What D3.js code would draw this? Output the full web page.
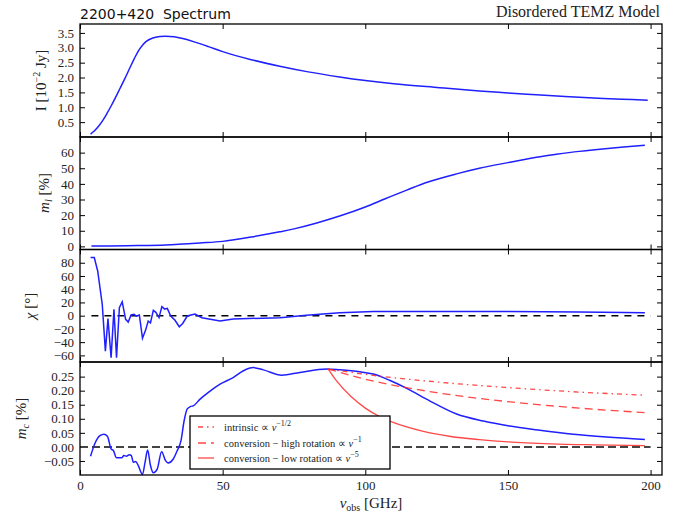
<!DOCTYPE html>
<html>
<head>
<meta charset="utf-8">
<script src="https://cdn.jsdelivr.net/npm/d3@7"></script>
<style>
  html, body { margin: 0; padding: 0; background: #fff; }
  svg { display: block; }
</style>
</head>
<body>
<script>
// Observed frequency ticks (GHz)
const xTicks = [0, 50, 100, 150, 200];

// Total intensity I [10^-2 Jy]
const iFreq = [3.7, 5, 6.5, 8, 9.5, 11, 12.5, 14, 15.8, 17.5, 19, 21, 23, 25.5, 28, 30, 33, 36, 40, 45, 50, 60, 70, 80, 91, 100, 110, 126, 140, 150, 160, 170, 180, 190, 199];
const iVal  = [0.10, 0.2, 0.36, 0.56, 0.8, 1.06, 1.34, 1.63, 1.98, 2.33, 2.63, 2.97, 3.2, 3.33, 3.38, 3.39, 3.37, 3.31, 3.2, 3.04, 2.87, 2.6, 2.38, 2.19, 2.02, 1.9, 1.79, 1.66, 1.55, 1.48, 1.42, 1.36, 1.31, 1.27, 1.24];
const iTicks = [0.5, 1.0, 1.5, 2.0, 2.5, 3.0, 3.5];

// Linear polarisation fraction m_l [%]
const mlFreq = [4, 10, 20, 30, 36, 42, 50, 60, 70, 75, 83, 91, 100, 107, 114.5, 122, 132, 140, 150, 160, 167, 175, 185, 198];
const mlVal  = [0.3, 0.3, 0.5, 0.9, 1.5, 2.2, 3.2, 6, 9.3, 11.2, 15, 19.4, 25.2, 30.5, 36, 41.2, 46.4, 50, 53.6, 57, 58.9, 60.8, 62.7, 64.7];
const mlTicks = [0, 10, 20, 30, 40, 50, 60];

// Polarisation angle chi [deg]
const chiFreq = [3.7, 5.0, 6.2, 7.8, 8.9, 9.8, 10.9, 11.9, 12.8, 13.8, 14.8, 16.0, 16.9, 17.9, 18.9, 19.8, 20.8, 21.9, 23.0, 23.9, 24.7, 25.7, 26.6, 27.7, 28.7, 29.7, 30.6, 31.8, 33.3, 34.8, 36.0, 37.6, 40.3, 42.7, 49.1, 53.7, 70.1, 79.4, 91.1, 102.9, 125, 149.5, 175, 198];
const chiVal  = [88, 88, 67.6, 17, -53.6, -4.5, -63.6, 9.5, -63.6, 12, 21, -5.6, -9.7, 1, 2, -0.6, 1, -34, -21.8, -8.1, -11, 8, 5, -3, 13.6, 10, 11, -0.5, -7, -16.7, -11.7, -0.5, 2.5, -3, -8, -5, -3, 0.5, 4.5, 6.3, 6.5, 6.3, 5.5, 4.5];
const chiTicks = [-60, -40, -20, 0, 20, 40, 60, 80];

// Circular polarisation fraction m_c [%]
const mcFreq = [3.7, 5.3, 7.0, 8.4, 9.6, 10.9, 11.7, 12.8, 14.6, 15.4, 16.3, 17.3, 18.0, 18.7, 19.5, 20.4, 21.9, 22.8, 23.7, 24.7, 25.7, 27.1, 28.6, 30.0, 30.9, 32.7, 34.1, 35.4, 36.5, 37.6, 38.8, 39.7, 42.1, 45.0, 49.1, 53.8, 57.3, 60.8, 64.3, 70.7, 77.1, 86.5, 91.1, 98.1, 102.8, 108.7, 114.5, 122.7, 132.0, 141.4, 150, 161.2, 172.9, 184.6, 198];
const mcVal  = [-0.033, 0.014, 0.040, 0.045, 0.038, -0.007, -0.013, -0.039, -0.039, -0.031, -0.033, -0.028, -0.031, -0.055, -0.052, -0.066, -0.098, -0.055, -0.011, -0.066, -0.092, -0.078, -0.017, -0.049, -0.057, -0.043, -0.013, 0.022, 0.093, 0.135, 0.144, 0.146, 0.170, 0.194, 0.223, 0.247, 0.271, 0.282, 0.274, 0.255, 0.265, 0.277, 0.274, 0.267, 0.259, 0.236, 0.208, 0.163, 0.117, 0.092, 0.075, 0.059, 0.045, 0.035, 0.026];
const mcTicks = [-0.05, 0.00, 0.05, 0.10, 0.15, 0.20, 0.25];

// Extrapolated m_c spectra beyond the turnover
const intrinsicFreq = [87, 100, 125, 150, 175, 198];
const intrinsicVal  = [0.277, 0.258, 0.231, 0.211, 0.195, 0.184];
const highRotFreq = [87, 100, 125, 150, 175, 198];
const highRotVal  = [0.277, 0.241, 0.193, 0.161, 0.138, 0.122];
const lowRotFreq = [87, 90, 95, 100, 105, 110, 120, 130, 140, 150, 165, 180, 198];
const lowRotVal  = [0.277, 0.234, 0.179, 0.138, 0.108, 0.086, 0.056, 0.037, 0.026, 0.018, 0.011, 0.0073, 0.0045];

const legendLabels = [
  ["intrinsic \u221D ", "\u03BD", "\u22121/2"],
  ["conversion \u2212 high rotation \u221D ", "\u03BD", "\u22121"],
  ["conversion \u2212 low rotation \u221D ", "\u03BD", "\u22125"]
];

const W = 673, H = 514;
const left = 80, right = 662;
const serif = "'Liberation Serif', serif";
const blue = "#1f1fff";
const red = "rgba(255,40,40,0.85)";

const svg = d3.select("body").append("svg").attr("width", W).attr("height", H);

const x = d3.scaleLinear().domain([0, 204]).range([left, right]);

const panels = [
  { top: 24,    bottom: 137,   domain: [0, 3.8],      ticks: iTicks,   fmt: d3.format(".1f") },
  { top: 137,   bottom: 249.5, domain: [-2, 70],      ticks: mlTicks,  fmt: d3.format("d") },
  { top: 249.5, bottom: 362,   domain: [-70, 100],    ticks: chiTicks, fmt: d3.format("d") },
  { top: 362,   bottom: 475,   domain: [-0.1, 0.302], ticks: mcTicks,  fmt: d3.format(".2f") }
];
panels.forEach(p => { p.y = d3.scaleLinear().domain(p.domain).range([p.bottom, p.top]); });

function axisStyle(g) {
  g.select(".domain").remove();
  g.selectAll(".tick line").attr("stroke", "#000").attr("stroke-width", 1);
  g.selectAll(".tick text").attr("font-family", serif).attr("font-size", 13).attr("fill", "#222");
}

panels.forEach((p, i) => {
  const g = svg.append("g");
  // inward ticks on all four sides
  g.append("g").attr("transform", `translate(0,${p.bottom})`)
    .call(d3.axisBottom(x).tickValues(xTicks).tickSizeInner(-5).tickSizeOuter(0)
      .tickPadding(6).tickFormat(i === 3 ? d3.format("d") : () => ""))
    .call(axisStyle);
  g.append("g").attr("transform", `translate(0,${p.top})`)
    .call(d3.axisTop(x).tickValues(xTicks).tickSizeInner(-5).tickSizeOuter(0).tickFormat(() => ""))
    .call(axisStyle);
  g.append("g").attr("transform", `translate(${left},0)`)
    .call(d3.axisLeft(p.y).tickValues(p.ticks).tickSizeInner(-5).tickSizeOuter(0)
      .tickPadding(6).tickFormat(p.fmt))
    .call(axisStyle);
  g.append("g").attr("transform", `translate(${right},0)`)
    .call(d3.axisRight(p.y).tickValues(p.ticks).tickSizeInner(-5).tickSizeOuter(0).tickFormat(() => ""))
    .call(axisStyle);
});

const lineOf = (p, curve) => d3.line().x(d => x(d[0])).y(d => p.y(d[1])).curve(curve);
const zip = (a, b) => a.map((v, k) => [v, b[k]]);

// Panel 1: intensity
svg.append("path").datum(zip(iFreq, iVal))
  .attr("d", lineOf(panels[0], d3.curveCatmullRom))
  .attr("fill", "none").attr("stroke", blue).attr("stroke-width", 1.5);

// Panel 2: linear polarisation
svg.append("path").datum(zip(mlFreq, mlVal))
  .attr("d", lineOf(panels[1], d3.curveCatmullRom))
  .attr("fill", "none").attr("stroke", blue).attr("stroke-width", 1.5);

// Panel 3: EVPA with zero reference
svg.append("path").datum([[4, 0], [200, 0]])
  .attr("d", lineOf(panels[2], d3.curveLinear))
  .attr("fill", "none").attr("stroke", "#000").attr("stroke-width", 1.4).attr("stroke-dasharray", "7,6");
svg.append("path").datum(zip(chiFreq, chiVal))
  .attr("d", lineOf(panels[2], d3.curveLinear))
  .attr("fill", "none").attr("stroke", blue).attr("stroke-width", 1.5);

// Panel 4: circular polarisation with models
svg.append("path").datum([[0, 0], [200, 0]])
  .attr("d", lineOf(panels[3], d3.curveLinear))
  .attr("fill", "none").attr("stroke", "#444").attr("stroke-width", 2).attr("stroke-dasharray", "8,4");
svg.append("path").datum(zip(mcFreq, mcVal))
  .attr("d", lineOf(panels[3], d3.curveMonotoneX))
  .attr("fill", "none").attr("stroke", blue).attr("stroke-width", 1.5);

const models = [
  { f: intrinsicFreq, v: intrinsicVal, dash: "5,4,1.5,4" },
  { f: highRotFreq,   v: highRotVal,   dash: "8,5" },
  { f: lowRotFreq,    v: lowRotVal,    dash: null }
];
models.forEach(m => {
  svg.append("path").datum(zip(m.f, m.v))
    .attr("d", lineOf(panels[3], d3.curveMonotoneX))
    .attr("fill", "none").attr("stroke", red).attr("stroke-width", 1.3)
    .attr("stroke-dasharray", m.dash);
});

// Legend
const lg = svg.append("g");
lg.append("rect").attr("x", 190).attr("y", 416).attr("width", 200).attr("height", 53)
  .attr("fill", "#fff").attr("stroke", "#000").attr("stroke-width", 1.3);
const legendY = [427, 443, 458];
models.forEach((m, k) => {
  lg.append("line").attr("x1", 198).attr("x2", 214).attr("y1", legendY[k]).attr("y2", legendY[k])
    .attr("stroke", red).attr("stroke-width", 1.3).attr("stroke-dasharray", m.dash);
  const t = lg.append("text").attr("x", 224).attr("y", legendY[k] + 3.5)
    .attr("font-family", serif).attr("font-size", 10.5).attr("fill", "#222");
  t.append("tspan").text(legendLabels[k][0]);
  t.append("tspan").attr("font-style", "italic").text(legendLabels[k][1]);
  t.append("tspan").attr("font-size", 8).attr("dy", -5).text(legendLabels[k][2]);
});

// Panel frames
panels.forEach(p => {
  svg.append("rect").attr("x", left).attr("y", p.top)
    .attr("width", right - left).attr("height", p.bottom - p.top)
    .attr("fill", "none").attr("stroke", "#000").attr("stroke-width", 1.3);
});

// Titles
svg.append("text").attr("x", 80).attr("y", 18.5)
  .attr("font-family", "'DejaVu Sans', sans-serif").attr("font-size", 14).attr("fill", "#111")
  .style("white-space", "pre")
  .text("2200+420  Spectrum");
svg.append("text").attr("x", 660).attr("y", 17).attr("text-anchor", "end")
  .attr("font-family", serif).attr("font-size", 16).attr("fill", "#222")
  .text("Disordered TEMZ Model");

// Axis labels
function yLabel(cx, cy, parts) {
  const t = svg.append("text")
    .attr("transform", `translate(${cx},${cy}) rotate(-90)`)
    .attr("text-anchor", "middle")
    .attr("font-family", serif).attr("font-size", 15).attr("fill", "#222");
  parts.forEach(pt => {
    const s = t.append("tspan").text(pt.t);
    if (pt.it) s.attr("font-style", "italic");
    if (pt.size) s.attr("font-size", pt.size);
    if (pt.dy) s.attr("dy", pt.dy);
  });
}
yLabel(46, 80.5, [{ t: "I [10" }, { t: "\u22122", size: 10, dy: -6 }, { t: " Jy]", dy: 6 }]);
yLabel(49, 193, [{ t: "m", it: true }, { t: "l", it: true, size: 10, dy: 3 }, { t: " [%]", dy: -3 }]);
yLabel(35, 306, [{ t: "\u03C7", it: true }, { t: " [\u00B0]" }]);
yLabel(26, 418.5, [{ t: "m", it: true }, { t: "c", it: true, size: 10, dy: 3 }, { t: " [%]", dy: -3 }]);

const xl = svg.append("text").attr("x", 371).attr("y", 508).attr("text-anchor", "middle")
  .attr("font-family", serif).attr("font-size", 15).attr("fill", "#222");
xl.append("tspan").attr("font-style", "italic").text("\u03BD");
xl.append("tspan").attr("font-size", 10).attr("dy", 3).text("obs");
xl.append("tspan").attr("dy", -3).text(" [GHz]");
</script>
</body>
</html>
